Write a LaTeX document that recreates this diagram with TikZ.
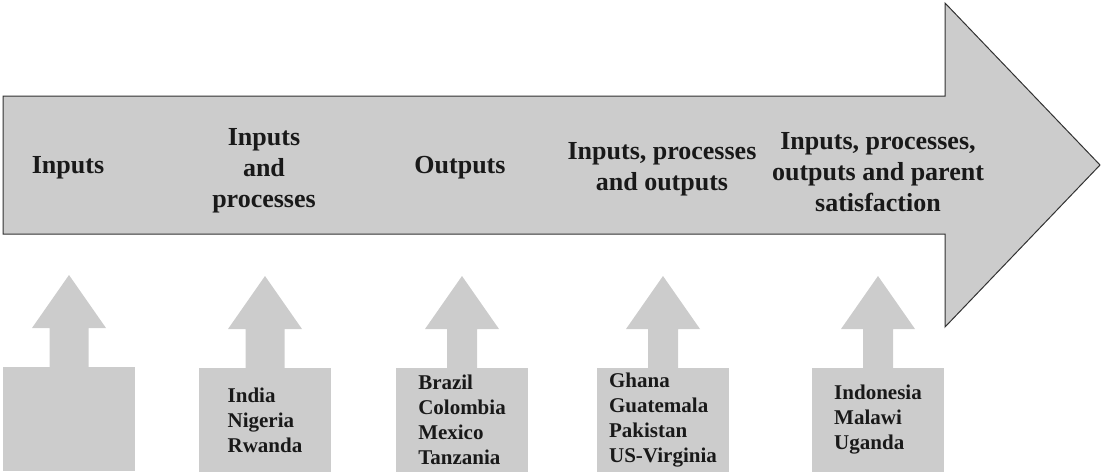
\documentclass[tikz,border=0pt]{standalone}
\usepackage{fontspec}
\setmainfont{Liberation Serif}
\usetikzlibrary{calc,positioning}
\definecolor{panelgray}{RGB}{204,204,204}
\definecolor{edgegray}{RGB}{50,50,50}
\tikzset{
  stage/.style={align=center, font=\fontsize{26}{31}\selectfont\bfseries, text=black!90},
  countrybox/.style={fill=panelgray, minimum width=132, minimum height=104, inner sep=0pt, outer sep=0pt, align=left, font=\fontsize{21}{25}\selectfont\bfseries, text=black!90},
  pointer/.style={fill=panelgray}
}
\begin{document}
\begin{tikzpicture}[x=1pt,y=-1pt]
    \useasboundingbox (0,0) rectangle (1102,472);

    % main arrow
    \draw[fill=panelgray, draw=edgegray, line width=1pt] (3,96) -- (945,96) -- (945,3) -- (1100,165) -- (945,327) -- (945,234) -- (3,234) -- cycle;

    \node[stage] (s1) at (68,168) {Inputs};
    \node[stage] (s2) at (264,171) {Inputs\\and\\processes};
    \node[stage] (s3) at (460,168) {Outputs};
    \node[stage] (s4) at (662,169) {Inputs, processes\\and outputs};
    \node[stage] (s5) at (878,172) {Inputs, processes,\\outputs and parent\\satisfaction};

    % countries
    \node[countrybox] (c1) at (69,419) {};
    \node[countrybox] (c2) at (265,420) {India\\Nigeria\\Rwanda};
    \node[countrybox] (c3) at (462,420) {Brazil\\Colombia\\Mexico\\Tanzania};
    \node[countrybox] (c4) at (663,420) {Ghana\\Guatemala\\Pakistan\\US-Virginia};
    \node[countrybox] (c5) at (878,420) {Indonesia\\Malawi\\Uganda};

    \foreach \b/\w in {c1/19.5,c2/19.5,c3/15,c4/15,c5/15}
        \fill[pointer] ($(\b.north)+(-\w,0)$) -- ($(\b.north)+(-\w,-39)$) -- ($(\b.north)+(-37,-39)$) -- ($(\b.north)+(0,-92)$) -- ($(\b.north)+(37,-39)$) -- ($(\b.north)+(\w,-39)$) -- ($(\b.north)+(\w,0)$) -- cycle;
\end{tikzpicture}
\end{document}
